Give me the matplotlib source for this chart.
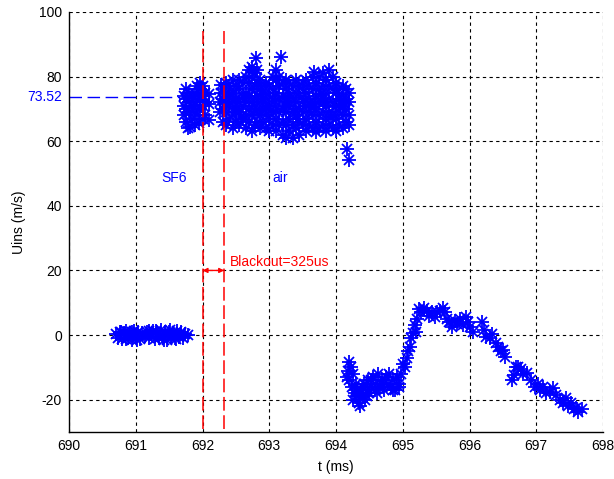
import numpy as np
import matplotlib
matplotlib.use("Agg")
import matplotlib.pyplot as plt

plt.rcParams['font.family'] = ['Liberation Sans', 'DejaVu Sans']
plt.rcParams['axes.unicode_minus'] = False

# --- data ---
# quiet period before the arc, around 0 m/s
pre_t = [690.70, 690.73, 690.76, 690.79, 690.82, 690.85, 690.88, 690.91, 690.94, 690.97,
         691.00, 691.03, 691.06, 691.09, 691.14, 691.17, 691.20, 691.23, 691.26, 691.29,
         691.32, 691.35, 691.38, 691.41, 691.44, 691.47, 691.50, 691.53, 691.56, 691.59,
         691.62, 691.65, 691.68, 691.71, 691.74, 691.78,
         690.78, 690.86, 690.95, 691.02, 691.20, 691.30, 691.42, 691.52, 691.60, 691.68]
pre_u = [0.2, -0.8, 1.0, -1.2, 0.6, 1.4, -0.9, 0.3, -1.5, 1.2,
         -0.4, 0.9, -1.1, 0.5, -0.3, 1.0, -0.8, 0.4, 1.3, -1.2,
         0.2, -0.9, 1.5, -0.6, 0.8, -1.4, 1.1, -0.2, 0.7, -1.0,
         1.2, -0.5, 0.6, -0.9, 0.4, 0.1,
         1.1, -1.3, 0.8, -1.6, 1.3, 1.4, -1.4, 1.6, -1.3, 1.0]

# SF6 part of the measurement
sf6_t = [691.72, 691.72, 691.72, 691.76, 691.76, 691.76, 691.76, 691.80, 691.80, 691.80,
         691.84, 691.84, 691.84, 691.88, 691.88, 691.88, 691.88, 691.92, 691.92, 691.92,
         691.92, 691.96, 691.96, 691.96, 691.96, 692.00, 692.00, 692.00, 692.00, 692.03,
         692.03, 692.03, 692.09, 692.09, 692.10, 692.26, 692.26, 692.27, 692.27, 691.82,
         691.78, 691.94]
sf6_u = [68, 71, 74, 66, 70, 73, 76, 69, 72, 75,
         67, 71, 74, 65, 69, 72, 75, 68, 71, 74,
         77, 70, 73, 76, 78, 67, 71, 74, 77, 68,
         72, 75, 74.6, 71.6, 66.6, 69, 72, 75, 77.5, 64.5,
         64, 65.5]

# air part of the measurement
air_t = [692.30, 692.30, 692.30, 692.30,
         692.35, 692.35, 692.35, 692.35, 692.35,
         692.40, 692.40, 692.40, 692.40,
         692.45, 692.45, 692.45, 692.45, 692.45,
         692.50, 692.50, 692.50, 692.50,
         692.55, 692.55, 692.55, 692.55, 692.55,
         692.60, 692.60, 692.60, 692.60,
         692.65, 692.65, 692.65, 692.65, 692.65,
         692.70, 692.70, 692.70, 692.70, 692.70,
         692.74, 692.74, 692.74, 692.74, 692.74, 692.74,
         692.78, 692.78, 692.78, 692.78, 692.78, 692.80,
         692.82, 692.82, 692.82, 692.82, 692.82,
         692.86, 692.86, 692.86, 692.86, 692.86,
         692.90, 692.90, 692.90, 692.90,
         692.95, 692.95, 692.95, 692.95, 692.95,
         693.00, 693.00, 693.00, 693.00, 693.00,
         693.05, 693.05, 693.05, 693.05, 693.05,
         693.10, 693.10, 693.10, 693.10, 693.10, 693.10,
         693.15, 693.15, 693.15, 693.15, 693.15, 693.18,
         693.20, 693.20, 693.20, 693.20, 693.20,
         693.25, 693.25, 693.25, 693.25, 693.25, 693.25,
         693.30, 693.30, 693.30, 693.30, 693.30,
         693.35, 693.35, 693.35, 693.35, 693.35,
         693.40, 693.40, 693.40, 693.40, 693.40,
         693.45, 693.45, 693.45, 693.45, 693.45,
         693.50, 693.50, 693.50, 693.50, 693.50,
         693.55, 693.55, 693.55, 693.55, 693.55,
         693.60, 693.60, 693.60, 693.60,
         693.65, 693.65, 693.65, 693.65, 693.65, 693.67,
         693.70, 693.70, 693.70, 693.70, 693.70,
         693.75, 693.75, 693.75, 693.75, 693.75,
         693.80, 693.80, 693.80, 693.80, 693.80,
         693.85, 693.85, 693.85, 693.85, 693.85,
         693.90, 693.90, 693.90, 693.90, 693.90,
         693.95, 693.95, 693.95, 693.95, 693.95,
         694.00, 694.00, 694.00, 694.00, 694.00,
         694.05, 694.05, 694.05, 694.05,
         694.10, 694.10, 694.10, 694.10, 694.10,
         694.15, 694.15, 694.15, 694.15,
         694.20, 694.20, 694.20, 694.20,
         694.16, 694.19,
         692.33, 692.48, 692.63, 692.77, 692.93, 693.08, 693.23, 693.38, 693.53, 693.68,
         693.83, 693.98, 694.13, 692.42, 692.58, 692.88, 693.02, 693.28, 693.43, 693.62,
         693.78, 693.92, 694.07]
air_u = [66, 70, 73, 76,
         65, 69, 72, 75, 78,
         67, 71, 74, 77,
         64, 68, 72, 75, 79,
         66, 70, 73, 77,
         65, 69, 72, 76, 79,
         67, 71, 74, 78,
         64, 68, 72, 75, 80,
         66, 70, 74, 78, 82,
         63.3, 68, 72, 76, 80, 83,
         65, 69, 73, 77, 81, 85.8,
         66, 70, 74, 78, 82,
         64, 68, 72, 76, 79,
         66, 70, 73, 77,
         64, 68, 72, 75, 78,
         63, 67, 71, 74, 77,
         65, 69, 73, 76, 80,
         63, 67, 71, 75, 79, 82,
         65, 69, 73, 77, 80, 86,
         62, 66, 70, 74, 78,
         61, 65, 69, 72, 76, 79,
         63, 67, 71, 75, 78,
         61, 65, 69, 73, 77,
         64, 68, 72, 75, 79,
         62, 66, 70, 74, 77,
         65, 69, 72, 76, 78,
         63, 67, 71, 75, 79,
         65, 69, 73, 77,
         64, 68, 72, 76, 80, 81.5,
         62.7, 66, 70, 74, 78,
         64, 68, 72, 76, 80,
         65, 69, 73, 77, 81,
         63, 67, 71, 75, 79,
         65, 69, 73, 77, 82,
         64, 68, 72, 76, 80,
         63, 67, 71, 75, 78,
         65, 69, 73, 76,
         64, 68, 71, 74, 77,
         66, 70, 73, 76,
         65, 68, 72, 75,
         57.7, 54.3,
         71.5, 70.5, 73.5, 71, 69.5, 72.5, 71.5, 70, 73, 71.5,
         72, 70.5, 71.5, 74.5, 67.5, 74.5, 69.5, 73.5, 67, 70.5,
         74.5, 67.5, 72.5]

# after the blackout, reading drops and swings
post_t = [694.16, 694.18, 694.20, 694.22, 694.20, 694.24, 694.26, 694.28, 694.30, 694.32,
          694.34, 694.36, 694.38, 694.40, 694.42, 694.44, 694.46, 694.48, 694.50, 694.52,
          694.55, 694.58, 694.60, 694.63, 694.66, 694.69, 694.72, 694.75, 694.78, 694.80,
          694.83, 694.86, 694.89, 694.92, 694.95, 694.98, 695.00, 695.03, 695.06, 695.08,
          695.11, 695.13, 695.16, 695.18, 695.20, 695.22, 695.25, 695.28, 695.32, 695.36,
          695.40, 695.44, 695.48, 695.52, 695.56, 695.60, 695.64, 695.66, 695.70, 695.74,
          695.78, 695.82, 695.86, 695.90, 695.94, 695.98, 696.01, 696.05, 696.19, 696.22,
          696.25, 696.30, 696.34, 696.40, 696.43, 696.47, 696.50, 696.53, 696.63, 696.66,
          696.70, 696.73, 696.77, 696.80, 696.86, 696.92, 696.98, 697.02, 697.06, 697.10,
          697.15, 697.20, 697.25, 697.30, 697.35, 697.40, 697.44, 697.48, 697.52, 697.56,
          697.60, 697.63, 697.68,
          694.26, 694.30, 694.34, 694.40, 694.46, 694.52, 694.62, 694.70, 694.85, 694.95]
post_u = [-13, -11, -8.3, -10, -14, -16, -12, -18, -15, -19,
          -21, -22, -17, -19, -15, -20, -17, -14, -18, -16,
          -13, -17, -15, -12, -16, -14, -17, -13, -15, -12,
          -16, -14, -17, -13, -15, -12, -9, -10, -7, -5,
          -3.6, -1, 0.6, 3, 1, 5, 8, 7, 8.5, 7.5,
          6, 7, 5.5, 7, 7.5, 8.5, 7, 5, 4, 2.5,
          4.5, 3.5, 5, 3, 5.5, 4, 2.5, 1, 4, 1.5,
          -0.5, -1, 0.3, -2.5, -3.7, -5, -4.5, -6.7, -13.9, -12.5,
          -10, -9.9, -10.5, -12, -11.8, -14, -16, -15, -17, -16,
          -18, -17.6, -16.5, -18.5, -20, -21, -19.5, -22, -21, -23,
          -22.5, -23.8, -23,
          -20, -17, -19, -16, -19, -14, -18, -15, -17, -16]

sf6_mean = 73.52
blackout_start = 692.0
blackout_end = 692.325

fig = plt.figure(figsize=(6.14, 4.79), dpi=100)
ax = fig.add_axes([0.1124, 0.0981, 0.8697, 0.877])

# MATLAB-like asterisk: a plus with a shorter cross on top
for t, u in [(pre_t, pre_u), (sf6_t, sf6_u), (air_t, air_u), (post_t, post_u)]:
    ax.plot(t, u, linestyle='none', marker='+', markersize=10, color='#0000ff',
            markeredgewidth=1.3, zorder=3)
    ax.plot(t, u, linestyle='none', marker='x', markersize=7, color='#0000ff',
            markeredgewidth=1.3, zorder=3)

# blackout lines
for xv in (blackout_start, blackout_end):
    ax.plot([xv, xv], [-29, 94], color='#ff0000', linestyle=(0, (9, 3)), linewidth=1.1, zorder=4)
ax.annotate('', xy=(blackout_start, 20), xytext=(blackout_end, 20),
            arrowprops=dict(arrowstyle='<|-|>', color='#ff0000', lw=1.0,
                            mutation_scale=7, shrinkA=0, shrinkB=0), zorder=5)
ax.text(692.41, 22.5, 'Blackout=325us', color='#ff0000', fontsize=10, va='center', ha='left')

# mean level of SF6 part
ax.plot([690, 691.66], [sf6_mean, sf6_mean], color='#0000ff', linestyle=(0, (9, 4)), linewidth=1.0)
ax.text(-0.012, sf6_mean, '%.2f' % sf6_mean, color='#0000ff', fontsize=10,
        ha='right', va='center', transform=ax.get_yaxis_transform())

ax.text(691.38, 48.5, 'SF6', color='#0000ff', fontsize=10, ha='left', va='center')
ax.text(693.04, 48.5, 'air', color='#0000ff', fontsize=10, ha='left', va='center')

ax.set_xlim(690, 698)
ax.set_ylim(-30, 100)
ax.set_xticks(np.arange(690, 699, 1))
ax.set_yticks([-20, 0, 20, 40, 60, 80, 100])
ax.grid(True, color='black', linestyle=(0, (3, 3)), linewidth=0.8)
ax.set_axisbelow(True)
for s in ('top', 'right'):
    ax.spines[s].set_visible(False)
ax.spines['left'].set_linewidth(1.0)
ax.spines['bottom'].set_linewidth(1.0)
ax.tick_params(direction='in', length=0, labelsize=10, pad=5, colors='black')

ax.set_xlabel('t (ms)', fontsize=10, labelpad=5)
ax.set_ylabel('Uins (m/s)', fontsize=10, labelpad=9)

fig.savefig('out.png', dpi=100)
